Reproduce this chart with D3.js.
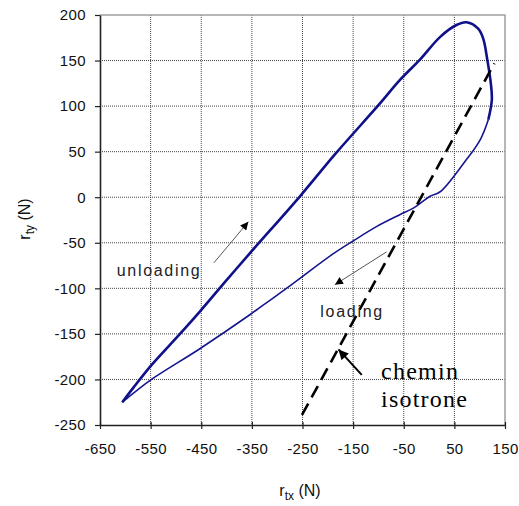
<!DOCTYPE html>
<html>
<head>
<meta charset="utf-8">
<script src="https://cdn.jsdelivr.net/npm/d3@7"></script>
<style>
  body { margin: 0; background: #fff; }
  svg { display: block; font-family: "Liberation Sans", Arial, sans-serif; }
</style>
</head>
<body>
<svg width="519" height="506"></svg>
<script>
// axis ticks
const xTicks = [-650, -550, -450, -350, -250, -150, -50, 50, 150];
const yTicks = [-250, -200, -150, -100, -50, 0, 50, 100, 150, 200];

// unloading branch (tip -> peak -> right side), thick line
const unloadX = [-606, -584, -548, -492, -452, -400, -350, -255, -186, -100, -57, -18, 22, 54, 74, 97, 107, 115, 122, 124, 117];
const unloadY = [-225, -209, -184, -150, -125, -91, -59, 1, 47, 101, 129, 151, 176, 189, 192, 185, 174, 151, 125, 107, 85];

// loading branch (right side -> tip), thin line
const loadX = [117, 101, 68, 22, 2, -31, -57, -103, -150, -189, -255, -294, -334, -354, -452, -551, -597, -606];
const loadY = [85, 63, 37, 6, 1, -12, -19, -32, -48, -62, -89, -105, -121, -129, -166, -201, -221, -225];

// "chemin isotrone" dashed path
const isoX = [-251, 129];
const isoY = [-239, 147];

// annotations (data units)
const arrows = [
  { name: "unloading", from: [-425, -72], to: [-357, -27], heavy: false },
  { name: "loading", from: [-84, -60], to: [-186, -96], heavy: false },
  { name: "chemin", from: [-133, -195], to: [-179, -167], heavy: true }
];
const labels = [
  { text: "unloading", x: -617, y: -87, len: 83, serif: false },
  { text: "loading", x: -215, y: -131, len: 62, serif: false },
  { text: "chemin", x: -95, y: -199, len: 77, serif: true },
  { text: "isotrone", x: -95, y: -230, len: 86, serif: true }
];

const svg = d3.select("svg");
const x = d3.scaleLinear().domain([-650, 150]).range([100, 505]);
const y = d3.scaleLinear().domain([-250, 200]).range([425, 15]);

// grid
svg.append("g").selectAll("line")
  .data(xTicks.slice(1, -1))
  .enter().append("line")
  .attr("x1", d => x(d)).attr("x2", d => x(d))
  .attr("y1", y(200)).attr("y2", y(-250))
  .style("stroke", "#444").style("stroke-dasharray", "1,1");
svg.append("g").selectAll("line")
  .data(yTicks.slice(1, -1))
  .enter().append("line")
  .attr("y1", d => y(d)).attr("y2", d => y(d))
  .attr("x1", x(-650)).attr("x2", x(150))
  .style("stroke", "#444").style("stroke-dasharray", "1,1");

// top and right border
svg.append("path")
  .attr("d", `M${x(-650)},${y(200)}H${x(150)}V${y(-250)}`)
  .style("fill", "none").style("stroke", "#a0a0a0").style("stroke-width", "1.5px");

// axes
const xAxis = svg.append("g")
  .attr("transform", `translate(0,${y(-250)})`)
  .call(d3.axisBottom(x).tickValues(xTicks).tickSize(4).tickSizeOuter(0).tickFormat(d => String(d)));
xAxis.selectAll(".tick line").attr("y1", -3);
xAxis.selectAll(".tick text").attr("y", 18).attr("dy", "0.71em");

const yAxis = svg.append("g")
  .attr("transform", `translate(${x(-650)},0)`)
  .call(d3.axisLeft(y).tickValues(yTicks).tickSize(5).tickSizeOuter(0).tickFormat(d => String(d)));
yAxis.selectAll(".tick text").attr("x", -14);

svg.selectAll(".domain").style("stroke", "#222").style("stroke-width", "1.6px");
svg.selectAll(".tick line").style("stroke", "#222").style("stroke-width", "1.2px");
svg.selectAll(".tick text")
  .style("font-size", "15px").style("letter-spacing", "0.4px")
  .style("fill", "#111").style("font-family", "'Liberation Sans', Arial, sans-serif");

// axis titles
const yt = svg.append("text")
  .attr("transform", "translate(30,219) rotate(-90)")
  .attr("text-anchor", "middle")
  .style("font-size", "16px").style("fill", "#111");
yt.append("tspan").text("r");
yt.append("tspan").attr("dy", 4).style("font-size", "12px").text("ty");
yt.append("tspan").attr("dy", -4).text(" (N)");

const xt = svg.append("text")
  .attr("x", 300).attr("y", 496)
  .attr("text-anchor", "middle")
  .style("font-size", "16px").style("fill", "#111");
xt.append("tspan").text("r");
xt.append("tspan").attr("dy", 4).style("font-size", "12px").text("tx");
xt.append("tspan").attr("dy", -4).text(" (N)");

// curves
const line = d3.line()
  .x(d => x(d[0]))
  .y(d => y(d[1]))
  .curve(d3.curveCatmullRom.alpha(0.5));

svg.append("path")
  .datum(loadX.map((v, i) => [v, loadY[i]]))
  .attr("d", line)
  .style("fill", "none").style("stroke", "#15158f").style("stroke-width", "1.6px");

svg.append("path")
  .datum(unloadX.map((v, i) => [v, unloadY[i]]))
  .attr("d", line)
  .style("fill", "none").style("stroke", "#10108a").style("stroke-width", "2.6px")
  .style("stroke-linejoin", "round");

// dashed isotrone line
svg.append("path")
  .datum(isoX.map((v, i) => [v, isoY[i]]))
  .attr("d", d3.line().x(d => x(d[0])).y(d => y(d[1])))
  .style("fill", "none").style("stroke", "#000").style("stroke-width", "2.6px")
  .style("stroke-dasharray", "13,7");

// arrowheads
const defs = svg.append("defs");
defs.append("marker")
  .attr("id", "headS").attr("viewBox", "0 0 10 10")
  .attr("refX", 10).attr("refY", 5)
  .attr("markerWidth", 9).attr("markerHeight", 8)
  .attr("markerUnits", "userSpaceOnUse")
  .attr("orient", "auto")
  .append("path").attr("d", "M0,0L10,5L0,10z").style("fill", "#000");
defs.append("marker")
  .attr("id", "headL").attr("viewBox", "0 0 10 10")
  .attr("refX", 10).attr("refY", 5)
  .attr("markerWidth", 11).attr("markerHeight", 10)
  .attr("markerUnits", "userSpaceOnUse")
  .attr("orient", "auto")
  .append("path").attr("d", "M0,0L10,5L0,10z").style("fill", "#000");

svg.append("g").selectAll("line")
  .data(arrows)
  .enter().append("line")
  .attr("x1", d => x(d.from[0])).attr("y1", d => y(d.from[1]))
  .attr("x2", d => x(d.to[0])).attr("y2", d => y(d.to[1]))
  .style("stroke", d => d.heavy ? "#000" : "#555")
  .style("stroke-width", d => d.heavy ? "2px" : "1px")
  .attr("marker-end", d => d.heavy ? "url(#headL)" : "url(#headS)");

// annotation text
svg.append("g").selectAll("text")
  .data(labels)
  .enter().append("text")
  .attr("x", d => x(d.x)).attr("y", d => y(d.y))
  .attr("textLength", d => d.len)
  .attr("lengthAdjust", "spacing")
  .style("font-family", d => d.serif ? "'Liberation Serif', 'Times New Roman', serif" : "'Liberation Sans', Arial, sans-serif")
  .style("font-size", d => d.serif ? "24px" : "16px")
  .style("fill", d => d.serif ? "#000" : "#222")
  .text(d => d.text);
</script>
</body>
</html>
